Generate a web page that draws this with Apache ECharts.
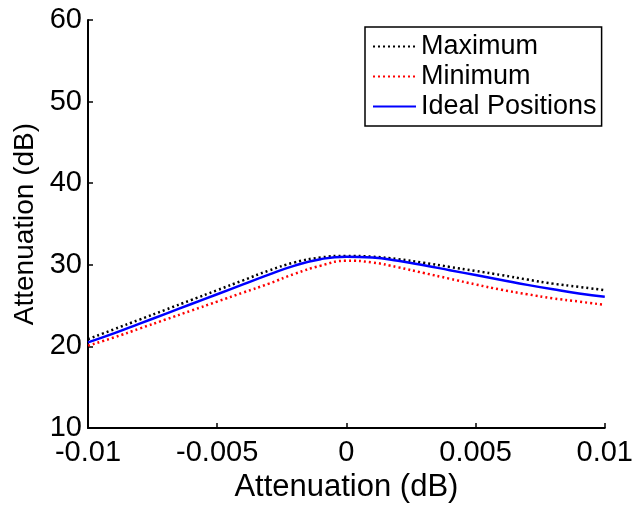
<!DOCTYPE html>
<html>
<head>
<meta charset="utf-8">
<script src="https://cdn.jsdelivr.net/npm/echarts@6/dist/echarts.min.js"></script>
<style>
html,body{margin:0;padding:0;background:#fff;}
#chart{width:636px;height:508px;}
</style>
</head>
<body>
<div id="chart"></div>
<script>
const xValues = [-0.010,-0.009,-0.008,-0.007,-0.006,-0.005,-0.004,-0.003,-0.002,-0.001,0.000,0.001,0.002,0.003,0.004,0.005,0.006,0.007,0.008,0.009,0.010];
const maximumValues = [20.9,22.1,23.3,24.5,25.7,26.9,28.1,29.3,30.3,30.9,31.1,31.0,30.7,30.25,29.75,29.25,28.75,28.2,27.7,27.3,26.9];
const minimumValues = [20.1,21.1,22.2,23.3,24.4,25.5,26.6,27.7,28.9,29.9,30.5,30.3,29.7,29.0,28.3,27.6,26.95,26.4,25.9,25.5,25.1];
const idealValues   = [20.5,21.6,22.8,24.0,25.2,26.4,27.6,28.8,29.9,30.7,31.0,30.9,30.5,29.95,29.35,28.75,28.15,27.55,27.0,26.5,26.1];
const seriesNames = ['Maximum','Minimum','Ideal Positions'];
const xTickLabels = {'-0.01':'-0.01','-0.005':'-0.005','0':'0','0.005':'0.005','0.01':'0.01'};
const yTickLabels = ['10','20','30','40','50','60'];
const xAxisTitle = 'Attenuation (dB)';
const yAxisTitle = 'Attenuation (dB)';

function pairs(ys){ return xValues.map((x,i)=>[x,ys[i]]); }

const font = 'Liberation Sans, Arial, sans-serif';
const chart = echarts.init(document.getElementById('chart'), null, {renderer:'canvas'});
chart.setOption({
  animation:false,
  backgroundColor:'#fff',
  grid:{left:88,right:29,top:20,bottom:74,containLabel:false},
  legend:{
    orient:'vertical', left:365, top:27,
    padding:[6,5,6,7], itemGap:3, itemWidth:43, itemHeight:24,
    borderColor:'#000', borderWidth:1.5, backgroundColor:'#fff',
    itemStyle:{color:'rgba(0,0,0,0)',borderColor:'rgba(0,0,0,0)',borderWidth:0,opacity:0},
    textStyle:{fontFamily:font,fontSize:27,color:'#000'},
    data:seriesNames
  },
  xAxis:{
    type:'value', min:-0.01, max:0.01, interval:0.005,
    name:xAxisTitle, nameLocation:'middle', nameGap:42,
    nameTextStyle:{fontFamily:font,fontSize:31,color:'#000'},
    axisLine:{show:true,onZero:false,lineStyle:{color:'#000',width:2}},
    axisTick:{show:true,inside:true,length:5,lineStyle:{color:'#000',width:1.5}},
    axisLabel:{fontFamily:font,fontSize:29,color:'#000',margin:10,
      formatter:function(v){ const k = String(Math.round(v*1000)/1000); return xTickLabels[k] !== undefined ? xTickLabels[k] : k; }},
    splitLine:{show:false}
  },
  yAxis:{
    type:'value', min:10, max:60, interval:10,
    name:yAxisTitle, nameLocation:'middle', nameGap:46, nameRotate:90,
    nameTextStyle:{fontFamily:font,fontSize:28,color:'#000'},
    axisLine:{show:true,onZero:false,lineStyle:{color:'#000',width:2}},
    axisTick:{show:true,inside:true,length:5,lineStyle:{color:'#000',width:1.5}},
    axisLabel:{fontFamily:font,fontSize:29,color:'#000',margin:6,
      formatter:function(v){ const i = Math.round((v-10)/10); return yTickLabels[i] || String(v); }},
    splitLine:{show:false}
  },
  series:[
    {name:seriesNames[0],type:'line',data:pairs(maximumValues),showSymbol:false,symbol:'none',smooth:0.5,
      lineStyle:{color:'#000',width:2.5,type:[2,3]},itemStyle:{color:'#000'}},
    {name:seriesNames[1],type:'line',data:pairs(minimumValues),showSymbol:false,symbol:'none',smooth:0.5,
      lineStyle:{color:'#ff0000',width:2.5,type:[2,3]},itemStyle:{color:'#ff0000'}},
    {name:seriesNames[2],type:'line',data:pairs(idealValues),showSymbol:false,symbol:'none',smooth:0.5,
      lineStyle:{color:'#0000ff',width:2.5,type:'solid'},itemStyle:{color:'#0000ff'}}
  ]
});
</script>
</body>
</html>
